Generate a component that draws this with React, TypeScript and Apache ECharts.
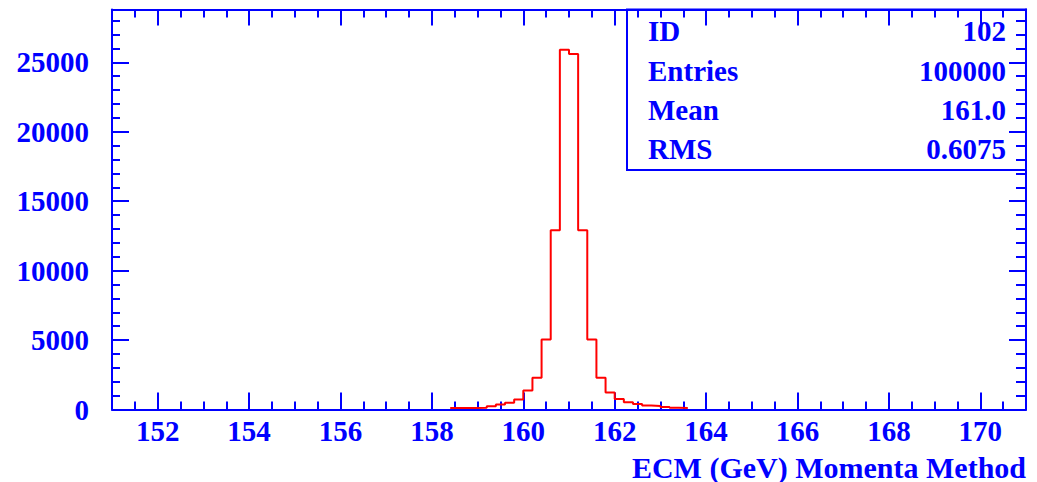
import React, { useEffect, useRef } from "react";
import * as echarts from "echarts";

const binEdges = [
  158.4, 158.6, 158.8, 159.0, 159.2, 159.4, 159.6, 159.8, 160.0, 160.2, 160.4, 160.6, 160.8,
  161.0, 161.2, 161.4, 161.6, 161.8, 162.0, 162.2, 162.4, 162.6, 162.8, 163.0, 163.2, 163.4, 163.6,
];
const counts = [
  110, 110, 110, 120, 240, 360, 480, 720, 1370, 2280, 5040, 12900, 25900,
  25600, 12900, 5040, 2280, 1220, 760, 520, 400, 290, 260, 180, 120, 110,
];
const xMajorTicks = [152, 154, 156, 158, 160, 162, 164, 166, 168, 170];
const statLabels = ["ID", "Entries", "Mean", "RMS"];
const statValues = ["102", "100000", "161.0", "0.6075"];
const xTitle = "ECM (GeV) Momenta Method";

const BLUE = "#0000ff";
const FONT = "Liberation Serif";

export default function App() {
  const ref = useRef<HTMLDivElement>(null);
  useEffect(() => {
    if (!ref.current) return;
    const chart = echarts.init(ref.current, undefined, { renderer: "svg" });
    const data = binEdges.map((e, i) => [e, counts[Math.min(i, counts.length - 1)]]);
    const lineStyle = { color: BLUE, width: 2 };
    const labelStyle = { color: BLUE, fontFamily: FONT, fontWeight: "bold", fontSize: 29 };
    const xBase = { type: "value", min: 151, max: 171, splitLine: { show: false } };
    const statRows = [31, 71, 110, 149];
    const graphics: any[] = [
      {
        type: "rect",
        shape: { x: 627, y: 9.5, width: 399, height: 160.5 },
        style: { fill: "none", stroke: BLUE, lineWidth: 2 },
        z: 10,
      },
    ];
    statLabels.forEach((t, i) => {
      graphics.push({
        type: "text",
        x: 648,
        y: statRows[i],
        style: {
          text: t,
          font: `bold 29px "${FONT}"`,
          fill: BLUE,
          textAlign: "left",
          textVerticalAlign: "middle",
        },
        z: 10,
      });
      graphics.push({
        type: "text",
        x: 1006,
        y: statRows[i],
        style: {
          text: statValues[i],
          font: `bold 29px "${FONT}"`,
          fill: BLUE,
          textAlign: "right",
          textVerticalAlign: "middle",
        },
        z: 10,
      });
    });
    graphics.push({
      type: "text",
      x: 1026,
      y: 467,
      style: {
        text: xTitle,
        font: `bold 30px "${FONT}"`,
        fill: BLUE,
        textAlign: "right",
        textVerticalAlign: "middle",
      },
      z: 10,
    });

    chart.setOption({
      animation: false,
      grid: { left: 112, right: 11, top: 9.5, bottom: 72.5, containLabel: false },
      xAxis: [
        {
          ...xBase,
          position: "bottom",
          interval: 0.5,
          axisLine: { show: true, onZero: false, lineStyle },
          axisTick: { show: true, inside: true, length: 8, lineStyle },
          axisLabel: { show: false },
        },
        {
          ...xBase,
          position: "bottom",
          interval: 0.5,
          axisLine: { show: false, onZero: false },
          axisTick: { show: true, inside: true, length: 17, lineStyle, customValues: xMajorTicks },
          axisLabel: { show: true, margin: 7, customValues: xMajorTicks, ...labelStyle },
        },
        {
          ...xBase,
          position: "top",
          interval: 0.5,
          axisLine: { show: true, onZero: false, lineStyle },
          axisTick: { show: true, inside: true, length: 8, lineStyle },
          axisLabel: { show: false },
        },
        {
          ...xBase,
          position: "top",
          interval: 0.5,
          axisLine: { show: false, onZero: false },
          axisTick: { show: true, inside: true, length: 16, lineStyle, customValues: xMajorTicks },
          axisLabel: { show: false },
        },
      ],
      yAxis: [
        {
          type: "value",
          min: 0,
          max: 28800,
          interval: 5000,
          position: "left",
          splitLine: { show: false },
          axisLine: { show: true, lineStyle },
          axisTick: { show: true, inside: true, length: 17, lineStyle },
          minorTick: { show: true, splitNumber: 5, length: 8, lineStyle },
          axisLabel: {
            show: true,
            margin: 23,
            showMaxLabel: false,
            formatter: (v: number) => (v > 25000 ? "" : String(v)),
            ...labelStyle,
          },
        },
        {
          type: "value",
          min: 0,
          max: 28800,
          interval: 5000,
          position: "right",
          splitLine: { show: false },
          axisLine: { show: true, lineStyle },
          axisTick: { show: true, inside: true, length: 17, lineStyle },
          minorTick: { show: true, splitNumber: 5, length: 10, lineStyle },
          axisLabel: { show: false },
        },
      ],
      series: [
        {
          type: "line",
          xAxisIndex: 0,
          yAxisIndex: 0,
          step: "end",
          data,
          symbol: "none",
          lineStyle: { color: "#ff0000", width: 2 },
          z: 5,
        },
      ],
      graphic: graphics,
    });
    return () => chart.dispose();
  }, []);
  return (
    <div
      ref={ref}
      style={{ position: "fixed", left: 0, top: 0, width: 1037, height: 482, background: "#fff" }}
    />
  );
}
